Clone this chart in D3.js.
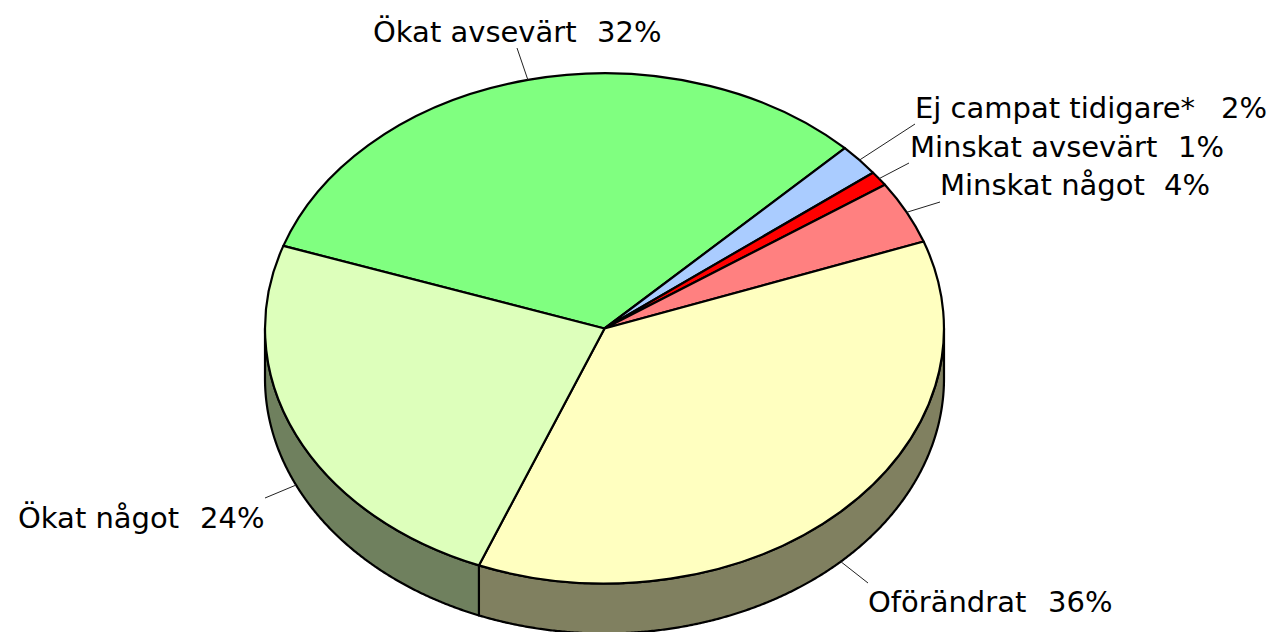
<!DOCTYPE html>
<html>
<head>
<meta charset="utf-8">
<script src="https://cdn.jsdelivr.net/npm/d3@7"></script>
<style>
html, body { margin: 0; background: #fff; overflow: hidden; }
text { font-family: "DejaVu Sans", sans-serif; font-size: 29px; fill: #000; white-space: pre; }
</style>
</head>
<body>
<div id="container"></div>
<script>
var categories = ["Ökat avsevärt", "Ej campat tidigare*", "Minskat avsevärt", "Minskat något", "Oförändrat", "Ökat något"];
var values = [32.26, 2.02, 0.94, 4.0, 36.56, 24.22];
var percentLabels = ["32%", "2%", "1%", "4%", "36%", "24%"];
var colors = ["#80ff80", "#aaccff", "#ff0000", "#ff8080", "#ffffc0", "#ddffbb"];

// label placement, same order as categories: text start, percent start, baseline, end of leader line
var labelX = [373, 915, 910, 940, 868, 18];
var percentX = [597, 1221, 1178, 1164, 1048, 200];
var labelY = [42, 118, 157, 195, 612, 528];
var leaderX = [517, 915, 909, 940, 868, 265];
var leaderY = [48, 124, 163, 202, 583, 498];

var width = 1272, height = 632;
var cx = 604.5, cy = 328.5, rx = 339.5, ry = 255, depth = 50;
var startDeg = -71.1;

var x = d3.scaleLinear().domain([-1, 1]).range([cx - rx, cx + rx]);
var y = d3.scaleLinear().domain([-1, 1]).range([cy - ry, cy + ry]);

var svg = d3.select("#container")
    .append("svg")
        .attr("width", width)
        .attr("height", height)
        .style("display", "block");

var pie = d3.pie()
    .sort(null)
    .startAngle(startDeg * Math.PI / 180)
    .endAngle((startDeg + 360) * Math.PI / 180);

var slices = pie(values);

// angle is clockwise from the top, as in d3.pie
function edgeX(a) { return x(Math.sin(a)); }
function edgeY(a) { return y(-Math.cos(a)); }

var wall = d3.area()
    .x(edgeX)
    .y0(edgeY)
    .y1(function(a) { return edgeY(a) + depth; });

// only the front half of the rim can be seen
var front = slices.map(function(d) {
    var a0 = Math.max(d.startAngle, Math.PI / 2),
        a1 = Math.min(d.endAngle, Math.PI * 3 / 2);
    return {index: d.index, a0: a0, a1: a1};
}).filter(function(d) { return d.a1 > d.a0; });

svg.selectAll(".wall")
    .data(front)
    .enter()
    .append("path")
    .attr("class", "wall")
    .attr("d", function(d) {
        var n = Math.ceil((d.a1 - d.a0) / 0.005);
        var angles = d3.range(n + 1).map(function(i) { return d.a0 + (d.a1 - d.a0) * i / n; });
        return wall(angles);
    })
    .attr("fill", function(d) {
        var c = d3.rgb(colors[d.index]);
        return d3.rgb(c.r / 2, c.g / 2, c.b / 2).formatHex();
    })
    .attr("stroke", "#000")
    .attr("stroke-width", 2.2)
    .attr("stroke-linejoin", "round");

var arc = d3.arc().innerRadius(0).outerRadius(1);

svg.append("g")
    .attr("transform", "translate(" + cx + "," + cy + ") scale(" + rx + "," + ry + ")")
    .selectAll("path")
    .data(slices)
    .enter()
    .append("path")
    .attr("d", arc)
    .attr("fill", function(d) { return colors[d.index]; })
    .attr("stroke", "#000")
    .attr("stroke-width", 2.2)
    .attr("stroke-linejoin", "round")
    .attr("vector-effect", "non-scaling-stroke");

// leader lines start at the middle of each slice, on the rim if it is in front
svg.selectAll(".leader")
    .data(slices)
    .enter()
    .append("line")
    .attr("class", "leader")
    .attr("x1", function(d) { return edgeX((d.startAngle + d.endAngle) / 2); })
    .attr("y1", function(d) {
        var a = (d.startAngle + d.endAngle) / 2;
        return edgeY(a) + (Math.cos(a) < 0 ? depth : 0);
    })
    .attr("x2", function(d) { return leaderX[d.index]; })
    .attr("y2", function(d) { return leaderY[d.index]; })
    .attr("stroke", "#222")
    .attr("stroke-width", 1);

var labels = svg.selectAll(".label")
    .data(slices)
    .enter()
    .append("text")
    .attr("class", "label")
    .attr("y", function(d) { return labelY[d.index]; });

labels.append("tspan")
    .attr("x", function(d) { return labelX[d.index]; })
    .text(function(d) { return categories[d.index] + "  "; });

labels.append("tspan")
    .attr("x", function(d) { return percentX[d.index]; })
    .text(function(d) { return percentLabels[d.index]; });
</script>
</body>
</html>
